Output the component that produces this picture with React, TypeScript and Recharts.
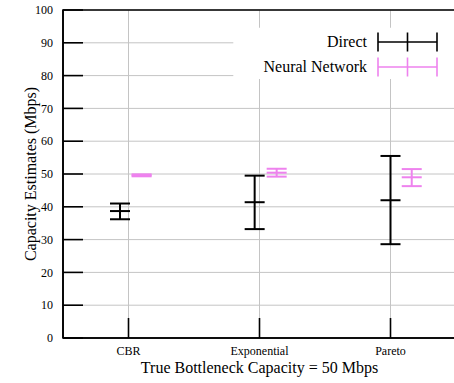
import React from 'react';
import {
  ScatterChart,
  Scatter,
  ErrorBar,
  XAxis,
  YAxis,
  CartesianGrid,
  ReferenceArea,
  Legend,
} from 'recharts';

const categories = ['CBR', 'Exponential', 'Pareto'];
const categoryTicks = [1, 2, 3];
const yTicks = [0, 10, 20, 30, 40, 50, 60, 70, 80, 90, 100];

// Direct estimator: min / mean / max per traffic type
const directPos = [0.935, 1.963, 3.0];
const directLow = [36.2, 33.2, 28.6];
const directMean = [38.7, 41.4, 42.0];
const directHigh = [41.0, 49.5, 55.5];

// Neural network estimator
const neuralPos = [1.1, 2.131, 3.162];
const neuralLow = [49.3, 49.2, 46.3];
const neuralMean = [49.6, 50.4, 49.0];
const neuralHigh = [49.9, 51.6, 51.5];

const seriesNames = ['Direct', 'Neural Network'];
const seriesColors = ['#000000', '#ee82ee'];

const FONT = 'Liberation Serif, Times New Roman, serif';

const buildRows = (pos: number[], low: number[], mean: number[], high: number[]) =>
  pos.map((x, i) => ({ x, y: mean[i], err: [mean[i] - low[i], high[i] - mean[i]] }));

const directData = buildRows(directPos, directLow, directMean, directHigh);
const neuralData = buildRows(neuralPos, neuralLow, neuralMean, neuralHigh);

const meanTick = (color: string) => (props: any) => {
  const { cx, cy } = props;
  return <line x1={cx - 10} x2={cx + 10} y1={cy} y2={cy} stroke={color} strokeWidth={2} />;
};

const LegendSample = ({ color }: { color: string }) => (
  <svg width={62} height={22} style={{ display: 'block' }}>
    <line x1={1} x2={60} y1={11} y2={11} stroke={color} strokeWidth={1.6} />
    <line x1={1} x2={1} y1={1.5} y2={20.5} stroke={color} strokeWidth={1.6} />
    <line x1={30.5} x2={30.5} y1={1.5} y2={20.5} stroke={color} strokeWidth={1.6} />
    <line x1={60} x2={60} y1={1.5} y2={20.5} stroke={color} strokeWidth={1.6} />
  </svg>
);

const LegendContent = () => (
  <div style={{ fontFamily: FONT, fontSize: 16, color: '#000' }}>
    {seriesNames.map((name, i) => (
      <div key={name} style={{ display: 'flex', alignItems: 'center', height: 25 }}>
        <div style={{ width: 134, textAlign: 'right', whiteSpace: 'nowrap', fontFamily: FONT }}>{name}</div>
        <div style={{ marginLeft: 10 }}>
          <LegendSample color={seriesColors[i]} />
        </div>
      </div>
    ))}
  </div>
);

const YTitle = (props: any) => {
  const { x, y, width, height } = props.viewBox;
  const cx = x + width / 2 + 0.5;
  const cy = y + height / 2;
  return (
    <text
      x={cx}
      y={cy}
      transform={`rotate(-90 ${cx} ${cy})`}
      textAnchor="middle"
      fontFamily={FONT}
      fontSize={16}
      fill="#000"
    >
      Capacity Estimates (Mbps)
    </text>
  );
};

const XTitle = (props: any) => {
  const { x, y, width } = props.viewBox;
  return (
    <text x={x + width / 2} y={y + 35} textAnchor="middle" fontFamily={FONT} fontSize={16} fill="#000">
      True Bottleneck Capacity = 50 Mbps
    </text>
  );
};

export default function App() {
  return (
    <div
      style={{
        position: 'fixed',
        left: 0,
        top: 0,
        width: 454,
        height: 383,
        overflow: 'hidden',
        background: '#fff',
      }}
    >
      <ScatterChart width={460} height={383} margin={{ top: 10, right: 3, left: 8, bottom: 5 }}>
        <CartesianGrid stroke="#c4c4c4" strokeWidth={1} />
        <ReferenceArea
          x1={1.8}
          x2={3.5}
          y1={79}
          y2={94.6}
          fill="#fff"
          fillOpacity={1}
          stroke="none"
          ifOverflow="hidden"
        />
        <ReferenceArea x1={0.5} x2={3.5} y1={0} y2={100} fill="none" stroke="#000" strokeWidth={1.6} />
        <XAxis
          type="number"
          dataKey="x"
          domain={[0.5, 3.5]}
          ticks={categoryTicks}
          interval={0}
          allowDataOverflow
          tickFormatter={(v: number) => categories[v - 1]}
          height={40}
          tickSize={-20}
          tickMargin={28}
          axisLine={{ stroke: '#000', strokeWidth: 1.6 }}
          tickLine={{ stroke: '#000', strokeWidth: 1.6 }}
          tick={{ fill: '#000', fontFamily: FONT, fontSize: 12 }}
          label={<XTitle />}
        />
        <YAxis
          type="number"
          dataKey="y"
          domain={[0, 100]}
          ticks={yTicks}
          interval={0}
          allowDataOverflow
          width={55}
          tickSize={-20}
          tickMargin={30}
          axisLine={{ stroke: '#000', strokeWidth: 1.6 }}
          tickLine={{ stroke: '#000', strokeWidth: 1.6 }}
          tick={{ fill: '#000', fontFamily: FONT, fontSize: 12 }}
          label={<YTitle />}
        />
        <YAxis
          yAxisId="right"
          orientation="right"
          type="number"
          domain={[0, 100]}
          ticks={yTicks}
          interval={0}
          width={1}
          tickSize={-20}
          tick={false}
          axisLine={{ stroke: '#000', strokeWidth: 1.6 }}
          tickLine={{ stroke: '#000', strokeWidth: 1.6 }}
        />
        <Scatter
          name={seriesNames[0]}
          data={directData}
          shape={meanTick(seriesColors[0])}
          isAnimationActive={false}
        >
          <ErrorBar dataKey="err" direction="y" width={10} stroke={seriesColors[0]} strokeWidth={2} isAnimationActive={false} />
        </Scatter>
        <Scatter
          name={seriesNames[1]}
          data={neuralData}
          shape={meanTick(seriesColors[1])}
          isAnimationActive={false}
        >
          <ErrorBar dataKey="err" direction="y" width={10} stroke={seriesColors[1]} strokeWidth={2} isAnimationActive={false} />
        </Scatter>
        <Legend
          layout="horizontal"
          verticalAlign="middle"
          align="center"
          content={<LegendContent />}
          wrapperStyle={{ left: 233, top: 29, width: 223, height: 50 }}
        />
      </ScatterChart>
    </div>
  );
}
